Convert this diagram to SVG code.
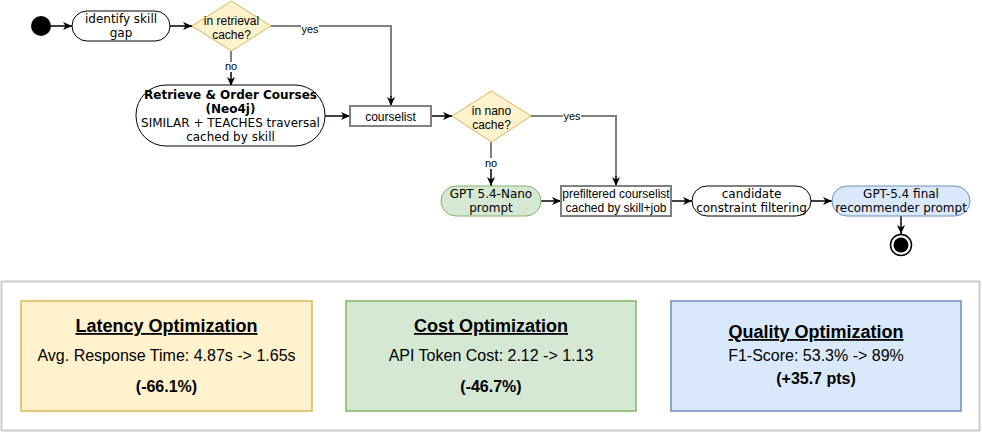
<svg xmlns="http://www.w3.org/2000/svg" width="982" height="432" viewBox="0 0 982 432">
<defs>
<marker id="arr" markerWidth="10" markerHeight="10" refX="9" refY="5" orient="auto" markerUnits="userSpaceOnUse">
<path d="M0,1 L9,5 L0,9 L2.5,5 z" fill="#000"/>
</marker>
<style>
.dv{font-family:"DejaVu Sans",Verdana,sans-serif;font-size:12px;fill:#000;text-anchor:middle}
.dvb{font-family:"DejaVu Sans",Verdana,sans-serif;font-size:12px;font-weight:bold;fill:#000;text-anchor:middle}
.ls{font-family:"Liberation Sans",Arial,sans-serif;font-size:12px;fill:#000;text-anchor:middle}
.lbl{font-family:"Liberation Sans",Arial,sans-serif;font-size:11px;fill:#000;text-anchor:middle}
.t{font-family:"Liberation Sans",Arial,sans-serif;font-size:18px;font-weight:bold;fill:#000;text-anchor:middle;text-decoration:underline}
.m{font-family:"Liberation Sans",Arial,sans-serif;font-size:16px;fill:#000;text-anchor:middle}
.mb{font-family:"Liberation Sans",Arial,sans-serif;font-size:16px;font-weight:bold;fill:#000;text-anchor:middle}
.blk{stroke:#000;stroke-width:1.5;fill:none}
.gry{stroke:#808080;stroke-width:2;fill:none}
.dia{fill:#fff2cc;stroke:#d6b656;stroke-width:1}
.act{fill:#fff;stroke:#000;stroke-width:1}
.box{fill:#fff;stroke:#808080;stroke-width:2}
</style>
</defs>
<rect width="982" height="432" fill="#fff"/>

<g id="connectors">
<line class="blk" x1="51" y1="26" x2="72" y2="26" marker-end="url(#arr)"/>
<line class="blk" x1="170" y1="26" x2="192" y2="26" marker-end="url(#arr)"/>
<path class="gry" d="M271,26 H391 V97"/>
<line class="blk" x1="391" y1="96" x2="391" y2="106" marker-end="url(#arr)"/>
<rect x="301" y="22" width="18" height="13" fill="#fff"/>
<text class="lbl" x="310" y="33">yes</text>
<path class="gry" d="M231,51 V62"/>
<line class="blk" x1="231" y1="72" x2="231" y2="86" marker-end="url(#arr)"/>
<text class="lbl" x="231" y="70">no</text>
<line class="blk" x1="325" y1="116" x2="350" y2="116" marker-end="url(#arr)"/>
<line class="blk" x1="431" y1="116" x2="452" y2="116" marker-end="url(#arr)"/>
<path class="gry" d="M531,116 H616 V177"/>
<line class="blk" x1="616" y1="176" x2="616" y2="186" marker-end="url(#arr)"/>
<rect x="563" y="112" width="18" height="11" fill="#fff"/>
<text class="lbl" x="572" y="120">yes</text>
<path class="gry" d="M491,142 V158"/>
<line class="blk" x1="491" y1="169" x2="491" y2="186" marker-end="url(#arr)"/>
<text class="lbl" x="491" y="167">no</text>
<line class="blk" x1="541" y1="201" x2="561" y2="201" marker-end="url(#arr)"/>
<line class="blk" x1="671" y1="201" x2="692" y2="201" marker-end="url(#arr)"/>
<line class="blk" x1="811" y1="201" x2="832" y2="201" marker-end="url(#arr)"/>
<line class="blk" x1="901" y1="216" x2="901" y2="234" marker-end="url(#arr)"/>
</g>

<g id="start"><circle cx="41" cy="26" r="10" fill="#000"/></g>

<g id="identify">
<rect class="act" x="72" y="11" width="98" height="30" rx="15"/>
<text class="dv" x="121" y="23">identify skill</text>
<text class="dv" x="121" y="37">gap</text>
</g>

<g id="retrieval-cache">
<polygon class="dia" points="231.5,1 271,26 231.5,51 192,26"/>
<text class="ls" x="231.5" y="24.5">in retrieval</text>
<text class="ls" x="231.5" y="38.5">cache?</text>
</g>

<g id="retrieve">
<rect class="act" x="136" y="85" width="189" height="61" rx="30"/>
<text class="dvb" x="230.5" y="99">Retrieve &amp; Order Courses</text>
<text class="dvb" x="230.5" y="113">(Neo4j)</text>
<text class="dv" x="230.5" y="127">SIMILAR + TEACHES traversal</text>
<text class="dv" x="230.5" y="141">cached by skill</text>
</g>

<g id="courselist">
<rect class="box" x="350" y="106" width="81" height="20"/>
<text class="ls" x="390.5" y="120.5">courselist</text>
</g>

<g id="nano-cache">
<polygon class="dia" points="491.5,91 531,116 491.5,142 452,116"/>
<text class="ls" x="491.5" y="114.5">in nano</text>
<text class="ls" x="491.5" y="128.5">cache?</text>
</g>

<g id="nano-prompt">
<rect x="441" y="186" width="100" height="30" rx="15" fill="#d5e8d4" stroke="#82b366" stroke-width="1"/>
<text class="dv" x="491" y="198">GPT 5.4-Nano</text>
<text class="dv" x="491" y="212">prompt</text>
</g>

<g id="prefiltered">
<rect class="box" x="561" y="186" width="110" height="30"/>
<text class="ls" x="616" y="198">prefiltered courselist</text>
<text class="ls" x="616" y="212">cached by skill+job</text>
</g>

<g id="candidate">
<rect class="act" x="692" y="186" width="119" height="30" rx="15"/>
<text class="dv" x="751.5" y="198">candidate</text>
<text class="dv" x="751.5" y="212">constraint filtering</text>
</g>

<g id="final-prompt">
<rect x="832" y="186" width="138" height="30" rx="15" fill="#dae8fc" stroke="#6c8ebf" stroke-width="1"/>
<text class="dv" x="901" y="198">GPT-5.4 final</text>
<text class="dv" x="901" y="212">recommender prompt</text>
</g>

<g id="end">
<circle cx="901" cy="245" r="10.5" fill="#fff" stroke="#000" stroke-width="1.5"/>
<circle cx="901" cy="245" r="7.5" fill="#000"/>
</g>

<g id="metrics">
<rect x="1.5" y="281.5" width="978" height="149" fill="#fff" stroke="#cccccc" stroke-width="2"/>
</g>

<g id="latency">
<rect x="21" y="301" width="291" height="110" fill="#fff2cc" stroke="#d6b656" stroke-width="1.5"/>
<text class="t" x="166.5" y="332">Latency Optimization</text>
<text class="m" x="166.5" y="361">Avg. Response Time: 4.87s -&gt; 1.65s</text>
<text class="mb" x="166.5" y="392">(-66.1%)</text>
</g>

<g id="cost">
<rect x="346" y="301" width="290" height="110" fill="#d5e8d4" stroke="#82b366" stroke-width="1.5"/>
<text class="t" x="491" y="332">Cost Optimization</text>
<text class="m" x="491" y="361">API Token Cost: 2.12 -&gt; 1.13</text>
<text class="mb" x="491" y="392">(-46.7%)</text>
</g>

<g id="quality">
<rect x="671" y="301" width="290" height="110" fill="#dae8fc" stroke="#6c8ebf" stroke-width="1.5"/>
<text class="t" x="816" y="338">Quality Optimization</text>
<text class="m" x="816" y="361">F1-Score: 53.3% -&gt; 89%</text>
<text class="mb" x="816" y="384">(+35.7 pts)</text>
</g>
</svg>
